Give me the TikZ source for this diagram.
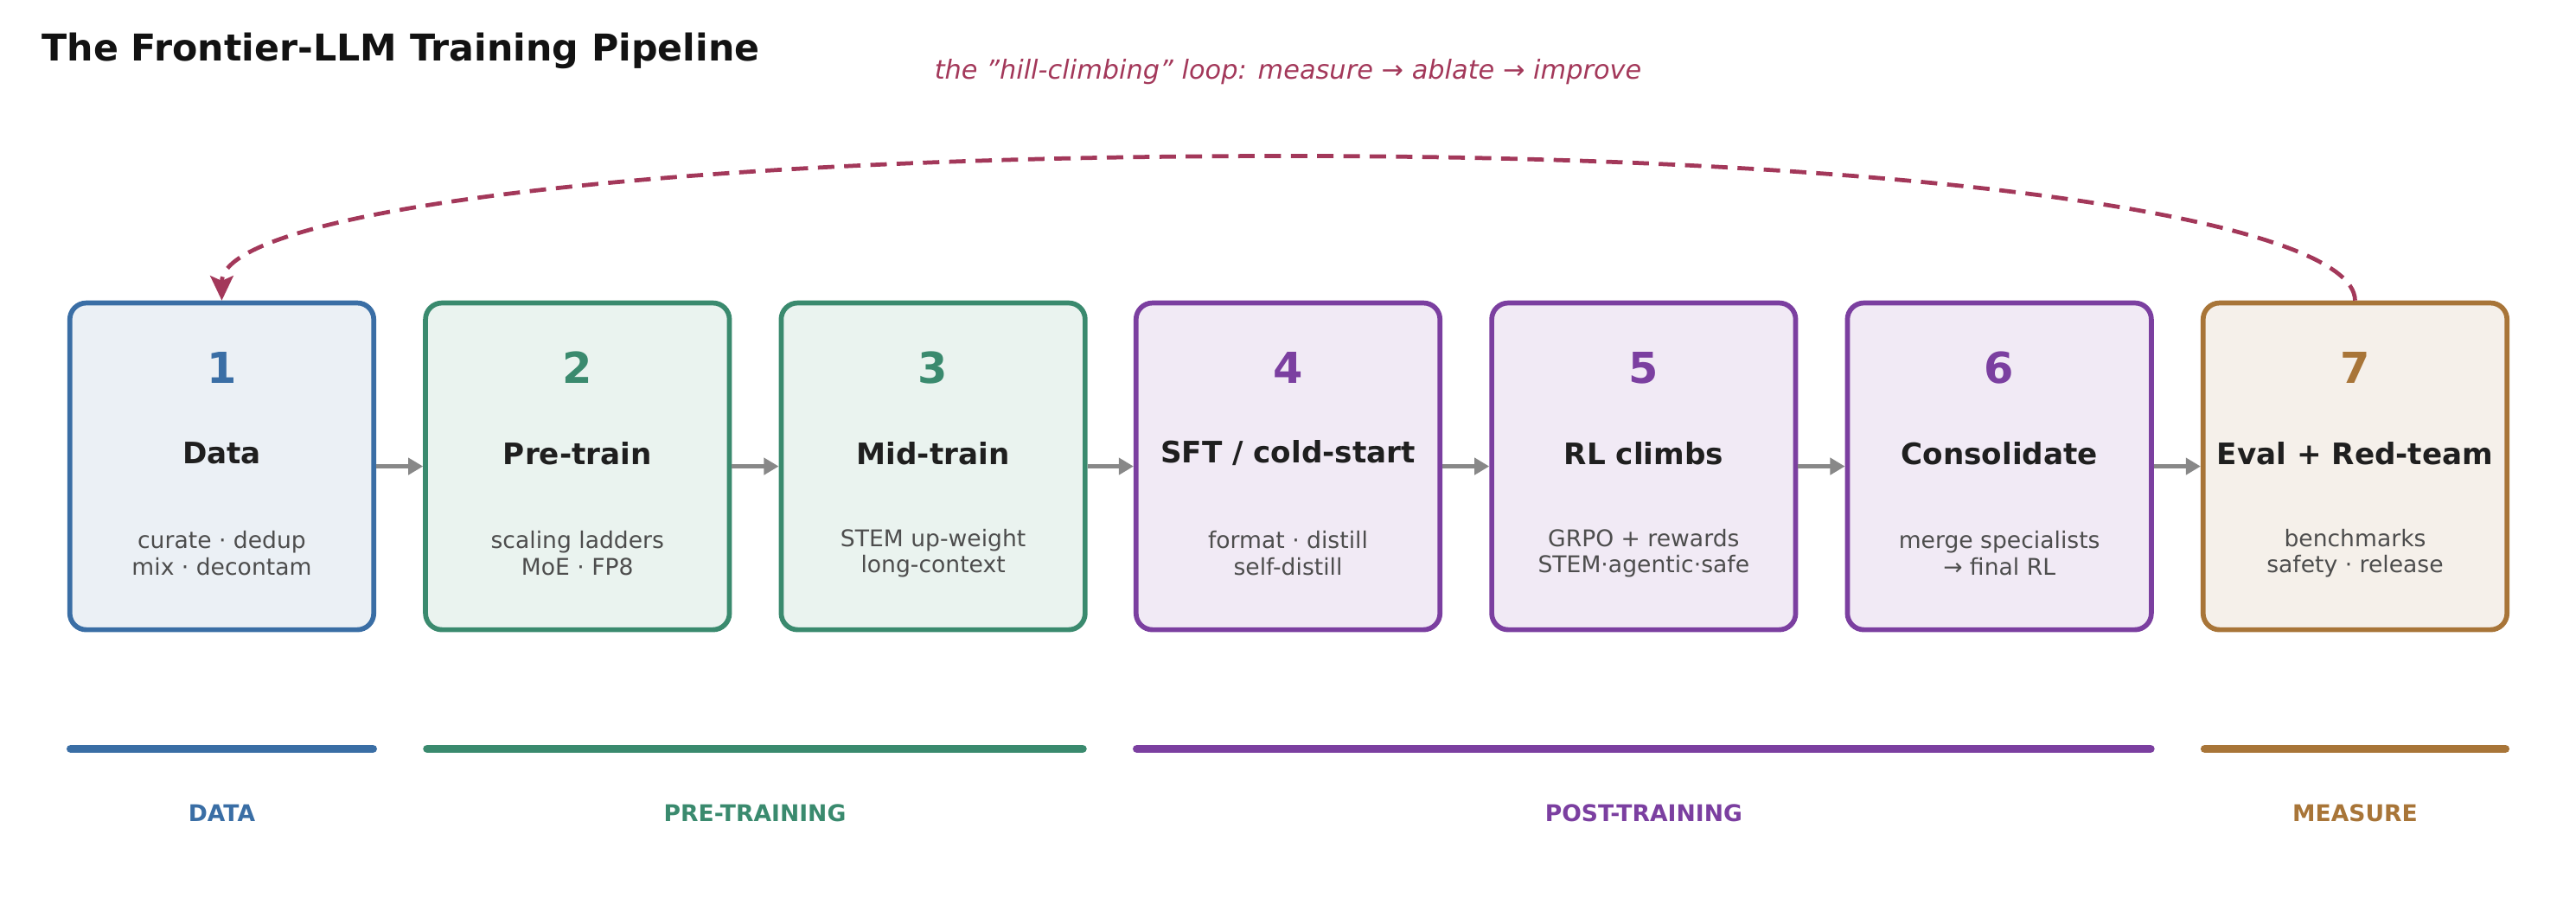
\documentclass[tikz,border=0pt]{standalone}
\usepackage{fontspec}
\setmainfont{DejaVu Sans}
\usetikzlibrary{arrows.meta}
\definecolor{cb}{HTML}{3A6EA5}\definecolor{cg}{HTML}{3A8A6E}
\definecolor{cp}{HTML}{7B3FA0}\definecolor{cr}{HTML}{A87538}
\definecolor{fb}{HTML}{EBF0F5}\definecolor{fg}{HTML}{EAF3EF}
\definecolor{fp}{HTML}{F1EAF5}\definecolor{fr}{HTML}{F5F0EA}
\definecolor{loopc}{HTML}{A3385A}\definecolor{sub}{HTML}{4D4D4D}
\definecolor{ar}{HTML}{888888}
\begin{document}
\begin{tikzpicture}[x=1pt,y=-1pt,
  stage/.style={draw=#1,line width=3pt,rounded corners=10pt,minimum width=185pt,minimum height=199pt,inner sep=0pt},
  num/.style={font=\fontsize{26}{28}\selectfont\bfseries},
  ttl/.style={font=\fontsize{18}{20}\selectfont\bfseries,text=black!88},
  subt/.style={font=\fontsize{14}{16}\selectfont,text=sub,align=center},
  flow/.style={draw=ar,line width=2.5pt,-{Triangle[length=9pt,width=10pt]}},
  bar/.style={line width=5pt,line cap=round},
  grp/.style={font=\fontsize{14}{16}\selectfont\bfseries}]
\useasboundingbox (0,0) rectangle (1568,558);
\node[anchor=west,font=\fontsize{22.5}{24}\selectfont\bfseries,text=black!93] (title) at (22,31) {The Frontier-LLM Training Pipeline};
\node[font=\fontsize{16}{18}\selectfont\itshape,text=loopc] (looplbl) at (784,44) {the \symbol{34}hill-climbing\symbol{34} loop: measure → ablate → improve};
\foreach \i/\x/\c/\f/\t/\s in {
 1/135/cb/fb/Data/{curate · dedup\\mix · decontam},
 2/351.5/cg/fg/Pre-train/{scaling ladders\\MoE · FP8},
 3/568/cg/fg/Mid-train/{STEM up-weight\\long-context},
 4/784/cp/fp/{SFT {/} cold-start}/{format · distill\\self-distill},
 5/1000.5/cp/fp/RL climbs/{GRPO + rewards\\STEM·agentic·safe},
 6/1217/cp/fp/Consolidate/{merge specialists\\→ final RL},
 7/1433.5/cr/fr/Eval + Red-team/{benchmarks\\safety · release}}{
 \node[stage=\c,fill=\f] (b\i) at (\x,284) {};
 \node[num,text=\c] (n\i) at (\x,224) {\i};
 \node[ttl] (t\i) at (\x,276) {\t};
 \node[subt] (s\i) at (\x,337) {\s};
}
\foreach \a/\b in {1/2,2/3,3/4,4/5,5/6,6/7}{\draw[flow] (b\a.east) -- (b\b.west);}
\coordinate (top) at (784,95);
\draw[loopc,line width=2.5pt,dash pattern=on 10pt off 6pt,-{Stealth[length=15pt,width=14pt,inset=3pt]}]
  (b7.north) .. controls (1433,135) and (1180,95) .. (top) .. controls (390,95) and (135,130) .. (b1.north);
\foreach \n/\xa/\xb/\c/\l in {d/43/227/cb/DATA,p/260/659/cg/PRE-TRAINING,q/692/1309/cp/POST-TRAINING,m/1342/1525/cr/MEASURE}{
 \coordinate (\n a) at (\xa,456); \coordinate (\n b) at (\xb,456);
 \draw[bar,\c] (\n a) -- (\n b);
 \node[grp,text=\c] (\n l) at ({(\xa+\xb)/2},495) {\l};
}
\end{tikzpicture}
\end{document}
